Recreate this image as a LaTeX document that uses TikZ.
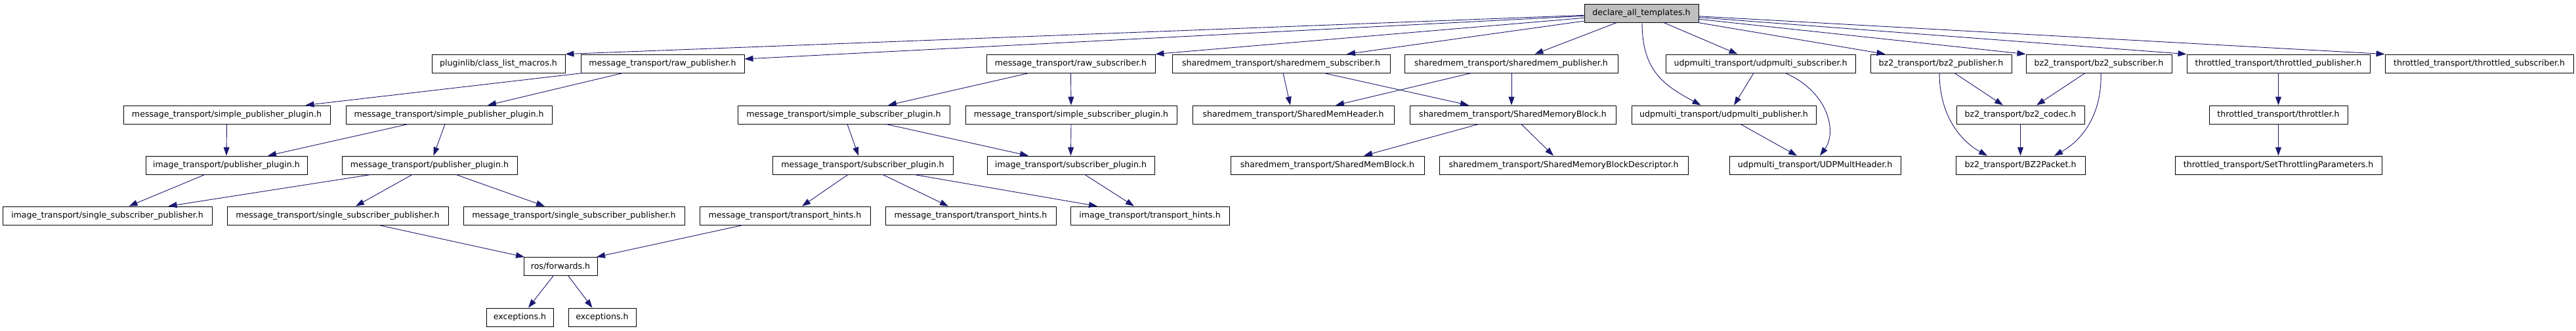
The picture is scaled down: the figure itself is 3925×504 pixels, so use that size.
\documentclass[tikz,border=0pt]{standalone}
\usepackage{fontspec}
\setmainfont{DejaVu Sans}
\usetikzlibrary{arrows.meta}
\definecolor{edgeblue}{RGB}{25,25,112}
\definecolor{rootgray}{RGB}{191,191,191}

\begin{document}
\begin{tikzpicture}[x=1pt, y=-1pt,
    file/.style={draw=black, line width=0.9pt, minimum height=28pt, inner sep=0pt,
        font=\fontsize{12.6}{15}\selectfont},
    dep/.style={edgeblue, line width=0.9pt, -{Triangle[length=13pt,width=9pt]}}]

    \useasboundingbox (0,0) rectangle (3925,504);

    % Root file
    \node[file, fill=rootgray, minimum width=174pt] (root) at (2501,20) {declare\_all\_templates.h};

    % First level of includes
    \node[file, minimum width=203pt] (pl) at (759.5,97) {pluginlib/class\_list\_macros.h};
    \node[file, minimum width=249pt] (rawpub) at (1009.5,97) {message\_transport/raw\_publisher.h};
    \node[file, minimum width=257pt] (rawsub) at (1631.5,97) {message\_transport/raw\_subscriber.h};
    \node[file, minimum width=332pt] (shmsub) at (1952,97) {sharedmem\_transport/sharedmem\_subscriber.h};
    \node[file, minimum width=325pt] (shmpub) at (2302.5,97) {sharedmem\_transport/sharedmem\_publisher.h};
    \node[file, minimum width=289pt] (udpsub) at (2682.5,97) {udpmulti\_transport/udpmulti\_subscriber.h};
    \node[file, minimum width=215pt] (bzpub) at (2957.5,97) {bz2\_transport/bz2\_publisher.h};
    \node[file, minimum width=222pt] (bzsub) at (3198,97) {bz2\_transport/bz2\_subscriber.h};
    \node[file, minimum width=279pt] (thrpub) at (3471.5,97) {throttled\_transport/throttled\_publisher.h};
    \node[file, minimum width=287pt] (thrsub) at (3777.5,97) {throttled\_transport/throttled\_subscriber.h};

    % Second level
    \node[file, minimum width=315pt] (spp1) at (345.5,175) {message\_transport/simple\_publisher\_plugin.h};
    \node[file, minimum width=314pt] (spp2) at (684,175) {message\_transport/simple\_publisher\_plugin.h};
    \node[file, minimum width=323pt] (ssp1) at (1285.5,175) {message\_transport/simple\_subscriber\_plugin.h};
    \node[file, minimum width=322pt] (ssp2) at (1632,175) {message\_transport/simple\_subscriber\_plugin.h};
    \node[file, minimum width=307pt] (shmhdr) at (1970.5,175) {sharedmem\_transport/SharedMemHeader.h};
    \node[file, minimum width=314pt] (shmblk) at (2305,175) {sharedmem\_transport/SharedMemoryBlock.h};
    \node[file, minimum width=281pt] (udppub) at (2626.5,175) {udpmulti\_transport/udpmulti\_publisher.h};
    \node[file, minimum width=195pt] (bzcodec) at (3078.5,175) {bz2\_transport/bz2\_codec.h};
    \node[file, minimum width=211pt] (throttler) at (3471.5,175) {throttled\_transport/throttler.h};

    % Third level
    \node[file, minimum width=246pt] (itpp) at (345,252) {image\_transport/publisher\_plugin.h};
    \node[file, minimum width=267pt] (mtpp) at (654.5,252) {message\_transport/publisher\_plugin.h};
    \node[file, minimum width=275pt] (mtsp) at (1314.5,252) {message\_transport/subscriber\_plugin.h};
    \node[file, minimum width=255pt] (itsp) at (1631.5,252) {image\_transport/subscriber\_plugin.h};
    \node[file, minimum width=295pt] (shmmemblk) at (2022.5,252) {sharedmem\_transport/SharedMemBlock.h};
    \node[file, minimum width=379pt] (shmdesc) at (2382.5,252) {sharedmem\_transport/SharedMemoryBlockDescriptor.h};
    \node[file, minimum width=261pt] (udphdr) at (2765.5,252) {udpmulti\_transport/UDPMultHeader.h};
    \node[file, minimum width=197pt] (bzpkt) at (3078.5,252) {bz2\_transport/BZ2Packet.h};
    \node[file, minimum width=315pt] (thrparam) at (3471.5,252) {throttled\_transport/SetThrottlingParameters.h};

    % Fourth level and below
    \node[file, minimum width=319pt] (itssp) at (163.5,329) {image\_transport/single\_subscriber\_publisher.h};
    \node[file, minimum width=337pt] (mtssp1) at (514.5,329) {message\_transport/single\_subscriber\_publisher.h};
    \node[file, minimum width=337pt] (mtssp2) at (874.5,329) {message\_transport/single\_subscriber\_publisher.h};
    \node[file, minimum width=260pt] (mth1) at (1196,329) {message\_transport/transport\_hints.h};
    \node[file, minimum width=260pt] (mth2) at (1479,329) {message\_transport/transport\_hints.h};
    \node[file, minimum width=242pt] (ith) at (1752,329) {image\_transport/transport\_hints.h};
    \node[file, minimum width=112pt] (fwd) at (854,406.5) {ros/forwards.h};
    \node[file, minimum width=102pt] (exc1) at (792,484) {exceptions.h};
    \node[file, minimum width=103pt] (exc2) at (917.5,484) {exceptions.h};

    % Edges from the root
    \draw[dep] (root) -- (pl.north east);
    \draw[dep] (root) -- ([yshift=7]rawpub.east);
    \draw[dep] (root) -- (rawsub.north east);
    \draw[dep] (root) -- ([xshift=100]shmsub.north);
    \draw[dep] (root) -- ([xshift=36]shmpub.north);
    \draw[dep] ([xshift=1]root.south) .. controls +(0,75) and +(-55,-30) .. ([xshift=-35]udppub.north);
    \draw[dep] (root) -- ([xshift=-35]udpsub.north);
    \draw[dep] (root) -- ([xshift=-85]bzpub.north);
    \draw[dep] (root) -- (bzsub.north west);
    \draw[dep] (root) -- (thrpub.north west);
    \draw[dep] (root) -- (thrsub.north west);

    % Edges between the lower levels
    \foreach \a/\da/\b/\db in {rawpub/-121.5/spp1/120, rawpub/-60.5/spp2/59,
        spp1/0/itpp/0, spp2/-62/itpp/63, spp2/-6/mtpp/6,
        itpp/-33/itssp/33, mtpp/-89.5/itssp/93, mtpp/-26.5/mtssp1/27.5, mtpp/40.5/mtssp2/-44.5,
        mtssp1/62.5/fwd/-55, mth1/-64/fwd/55, fwd/-11/exc1/13, fwd/12/exc2/-15,
        rawsub/-63.5/ssp1/67.5, rawsub/0/ssp2/0,
        ssp1/5.5/mtsp/-6.5, ssp1/64.5/itsp/-64.5, ssp2/0/itsp/0,
        mtsp/-22.5/mth1/26, mtsp/30.5/mth2/-34, mtsp/78.5/ith/-80, itsp/21.5/ith/-24,
        shmsub/3/shmhdr/-4.5, shmsub/65/shmblk/-67, shmpub/-60.5/shmhdr/64.5, shmpub/0.5/shmblk/-2,
        shmblk/-52/shmmemblk/55.5, shmblk/13/shmdesc/-15.5,
        udpsub/-10.5/udppub/15.5, udppub/25.5/udphdr/-27.5,
        bzpub/20.5/bzcodec/-26.5, bzsub/-21/bzcodec/24.5, bzcodec/0/bzpkt/0,
        thrpub/0/throttler/0, throttler/0/thrparam/0}
    {
        \draw[dep] ([xshift=\da]\a.south) -- ([xshift=\db]\b.north);
    }

    % Curved edges
    \draw[dep] ([xshift=37.5]udpsub.south) .. controls +(65,28) and +(27,-37) .. ([xshift=7.5]udphdr.north);
    \draw[dep] ([xshift=-2.5]bzpub.south) .. controls +(0,60) and +(-45,-25) .. ([xshift=-50.5]bzpkt.north);
    \draw[dep] ([xshift=3]bzsub.south) .. controls +(2,60) and +(45,-25) .. ([xshift=51.5]bzpkt.north);
\end{tikzpicture}
\end{document}
